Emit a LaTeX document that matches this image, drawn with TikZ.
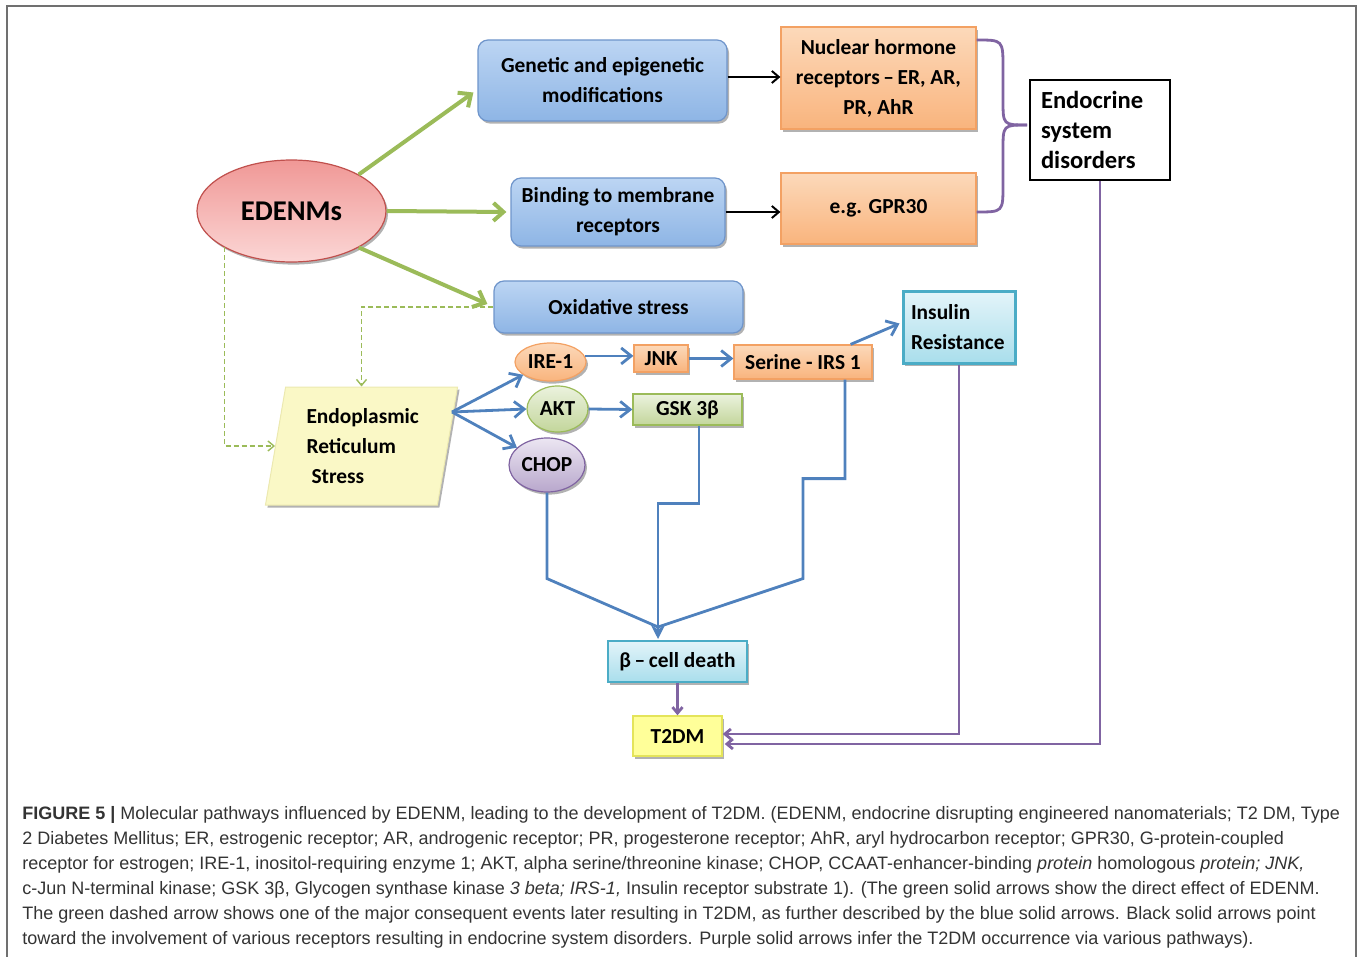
\documentclass[tikz,border=0pt]{standalone}
\usepackage{fontspec}
\setmainfont{Liberation Sans}
\newfontfamily\calfont{Carlito}
\usetikzlibrary{arrows.meta,shapes.geometric,shadows,calc}
\definecolor{bluetop}{HTML}{BCD5F3}
\definecolor{bluebot}{HTML}{8EB5E5}
\definecolor{blueedge}{HTML}{6F95CB}
\definecolor{orangetop}{HTML}{FCD9BA}
\definecolor{orangebot}{HTML}{F9B47D}
\definecolor{orangeedge}{HTML}{F3A163}
\definecolor{pinktop}{HTML}{F09896}
\definecolor{pinkbot}{HTML}{FBD6D5}
\definecolor{pinkedge}{HTML}{C0504D}
\definecolor{greentop}{HTML}{EBF2DE}
\definecolor{greenbot}{HTML}{C3D69B}
\definecolor{greenedge}{HTML}{9BBB59}
\definecolor{lavtop}{HTML}{ECE6F2}
\definecolor{lavbot}{HTML}{B8A7CC}
\definecolor{lavedge}{HTML}{8064A2}
\definecolor{cyantop}{HTML}{E3F4F9}
\definecolor{cyanbot}{HTML}{A9DEEC}
\definecolor{cyanedge}{HTML}{4BACC6}
\definecolor{erfill}{HTML}{FAF8C6}
\definecolor{eredge}{HTML}{ECE9B0}
\definecolor{yelfill}{HTML}{FFFF99}
\definecolor{yeledge}{HTML}{E4E45A}
\definecolor{grn}{HTML}{9BBB59}
\definecolor{blu}{HTML}{4F81BD}
\definecolor{pur}{HTML}{8064A2}
\definecolor{capgray}{HTML}{333333}
\definecolor{framegray}{HTML}{707070}
\tikzset{
  lab/.style={font=\calfont\bfseries\fontsize{10.7pt}{15pt}\selectfont, align=center, inner sep=0pt, text=black},
  shd/.style={drop shadow={shadow xshift=1pt,shadow yshift=-1.3pt,opacity=0.3,fill=black}},
  bbox/.style={lab, shd, draw=blueedge, line width=0.6pt, rounded corners=5pt, top color=bluetop, bottom color=bluebot},
  obox/.style={lab, shd, draw=orangeedge, line width=0.6pt, top color=orangetop, bottom color=orangebot},
  ell/.style={lab, shd, ellipse, line width=0.6pt},
  garr/.style={draw=grn, line width=2pt, -{Straight Barb[length=5pt,width=9pt]}},
  gdash/.style={draw=grn, line width=0.7pt, dashed, dash pattern=on 2.5pt off 1.5pt, -{Straight Barb[length=3pt,width=5pt]}},
  barr/.style={draw=blu, line width=1.4pt, -{Straight Barb[length=5pt,width=8pt]}},
  bline/.style={draw=blu, line width=1.4pt},
  bhead/.style={draw=blu, line width=1.4pt, -{Stealth[length=7pt,width=7pt]}},
  karr/.style={draw=black, line width=1pt, -{Straight Barb[length=3.5pt,width=6pt]}},
  parr/.style={draw=pur, line width=1.4pt, -{Straight Barb[length=3pt,width=5pt]}},
  pline/.style={draw=pur, line width=1.4pt},
  captext/.style={anchor=base west, inner sep=0pt, font=\fontsize{9pt}{11pt}\selectfont, text=capgray}
}
\begin{document}
\begin{tikzpicture}[x=0.5pt,y=-0.5pt]
\useasboundingbox (0,0) rectangle (1360,957);
\draw[framegray, line width=1pt] (7,957) -- (7,6) -- (1356,6) -- (1356,957);

% nodes
\node[ell, draw=pinkedge, top color=pinktop, bottom color=pinkbot, minimum width=94.5pt, minimum height=51pt, font=\calfont\bfseries\fontsize{14.3pt}{16pt}\selectfont] (edenm) at (291.5,211) {EDENMs};
\node[bbox, minimum width=124.5pt, minimum height=40.5pt] (gen) at (602.5,80.5) {Genetic and epigenetic\\modifications};
\node[bbox, minimum width=107pt, minimum height=34pt] (bind) at (618,212) {Binding to membrane\\receptors};
\node[bbox, minimum width=124.5pt, minimum height=26pt] (oxi) at (618.5,307) {Oxidative stress};
\node[obox, minimum width=97.5pt, minimum height=51pt] (nuc) at (878.5,78) {Nuclear hormone\\receptors\,–\,ER, AR,\\PR, AhR};
\node[obox, minimum width=97.5pt, minimum height=35.5pt] (gpr) at (878.5,208.5) {e.g. GPR30};
\node[lab, draw=black, line width=1pt, fill=white, minimum width=70pt, minimum height=50pt, text width=59pt, inner xsep=5.5pt, align=left, font=\calfont\bfseries\fontsize{12.3pt}{15pt}\selectfont] (endo) at (1100,130) {Endocrine\\system\\disorders};
\node[lab, shd, draw=cyanedge, line width=1.5pt, top color=cyantop, bottom color=cyanbot, minimum width=56pt, minimum height=35.5pt, text width=48pt, inner xsep=4pt, align=left] (ins) at (959,327.5) {Insulin\\Resistance};
\node[ell, draw=orangeedge, top color=orangetop, bottom color=orangebot, minimum width=35.5pt, minimum height=19pt] (ire) at (550.5,362) {IRE-1};
\node[obox, minimum width=27pt, minimum height=13.5pt] (jnk) at (661,358.5) {JNK};
\node[obox, minimum width=69pt, minimum height=17pt] (ser) at (803,362) {Serine - IRS 1};
\node[ell, draw=greenedge, top color=greentop, bottom color=greenbot, minimum width=30.5pt, minimum height=23pt] (akt) at (557.5,409) {AKT};
\node[lab, shd, draw=greenedge, line width=0.6pt, top color=greentop, bottom color=greenbot, minimum width=54.5pt, minimum height=15.5pt] (gsk) at (687.5,409.5) {GSK 3β};
\node[ell, draw=lavedge, top color=lavtop, bottom color=lavbot, minimum width=38pt, minimum height=27pt] (chop) at (547,465) {CHOP};
\node[lab, shd, trapezium, trapezium left angle=79, trapezium right angle=101, trapezium stretches=true, draw=eredge, line width=0.5pt, fill=erfill, minimum width=96.5pt, minimum height=59pt, text width=55pt, align=left] (er) at (361.5,446) {Endoplasmic\\Reticulum\\\hspace*{2.5pt}Stress};
\node[lab, shd, draw=cyanedge, line width=0.7pt, top color=cyantop, bottom color=cyanbot, minimum width=69.5pt, minimum height=20.5pt] (beta) at (677.5,661.5) {β\,–\,cell death};
\node[lab, shd, draw=yeledge, line width=0.7pt, fill=yelfill, minimum width=44.5pt, minimum height=20pt] (t2dm) at (677.5,736) {T2DM};

% green arrows
\draw[garr] (edenm.north east) -- ($(gen.west)+(-4,12)$);
\draw[garr] (edenm.east) -- ([xshift=-2pt]bind.west);
\draw[garr] (edenm.south east) -- ($(oxi.west)+(-6,-3)$);
\draw[gdash] (edenm.south west) |- (er.west);
\draw[gdash] (oxi.west) -| (er.north);

% black arrows
\draw[karr] (gen.east |- 0,77) -- (nuc.west |- 0,77);
\draw[karr] (bind.east) -- (bind.east -| gpr.west);

% purple brace
\coordinate (btip) at ($(endo.west)+(-2,-5)$);
\draw[pline] (nuc.east |- 0,40) .. controls (1003,40) .. (1003,68) -- (1003,100) .. controls (1003,125) .. (btip);
\draw[pline] (gpr.east |- 0,212) .. controls (1003,212) .. (1003,185) -- (1003,150) .. controls (1003,125) .. (btip);

% blue arrows
\coordinate (erout) at (452,412);
\draw[barr] (erout) -- (ire.205);
\draw[barr] (erout) -- (akt.west);
\draw[barr] (erout) -- (chop.150);
\draw[barr] (ire.10) -- (ire.10 -| jnk.west);
\draw[barr] (jnk.east) -- (jnk.east -| ser.west);
\draw[barr] ($(ser.north east)+(-22,0)$) -- ($(ins.west)+(-2,-4)$);
\draw[barr] (akt.east) -- (gsk.west);
\coordinate (bjoin) at (658,627);
\coordinate (btip2) at (658,639);
\draw[bline] (chop.south) -- ++(0,86) -- (bjoin);
\draw[bhead] ($(gsk.south)+(11.5,0)$) -- ++(0,78) -| (btip2);
\draw[bline] ($(ser.south)+(42,0)$) -- ++(0,99) -- ++(-42,0) -- ++(0,100) -- (bjoin);

% purple arrows
\draw[parr] (beta.south) -- (t2dm.north);
\draw[parr] (ins.south) |- ($(t2dm.east)+(0,-2)$);
\draw[parr] (endo.south) |- ($(t2dm.east)+(2,8)$);

% caption
\node[captext] (c1) at (22,819) {\textbf{FIGURE 5 |} Molecular pathways influenced by EDENM, leading to the development of T2DM. (EDENM, endocrine disrupting engineered nanomaterials; T2 DM, Type};
\node[captext] (c2) at (22,844) {2 Diabetes Mellitus; ER, estrogenic receptor; AR, androgenic receptor; PR, progesterone receptor; AhR, aryl hydrocarbon receptor; GPR30, G-protein-coupled};
\node[captext] (c3) at (22,869) {receptor for estrogen; IRE-1, inositol-requiring enzyme 1; AKT, alpha serine/threonine kinase; CHOP, CCAAT-enhancer-binding \textit{protein} homologous \textit{protein; JNK,}};
\node[captext] (c4) at (22,894) {c-Jun N-terminal kinase; GSK 3β, Glycogen synthase kinase \textit{3 beta; IRS-1,} Insulin receptor substrate 1). (The green solid arrows show the direct effect of EDENM.};
\node[captext] (c5) at (22,919) {The green dashed arrow shows one of the major consequent events later resulting in T2DM, as further described by the blue solid arrows. Black solid arrows point};
\node[captext] (c6) at (22,944) {toward the involvement of various receptors resulting in endocrine system disorders. Purple solid arrows infer the T2DM occurrence via various pathways).};
\end{tikzpicture}
\end{document}
